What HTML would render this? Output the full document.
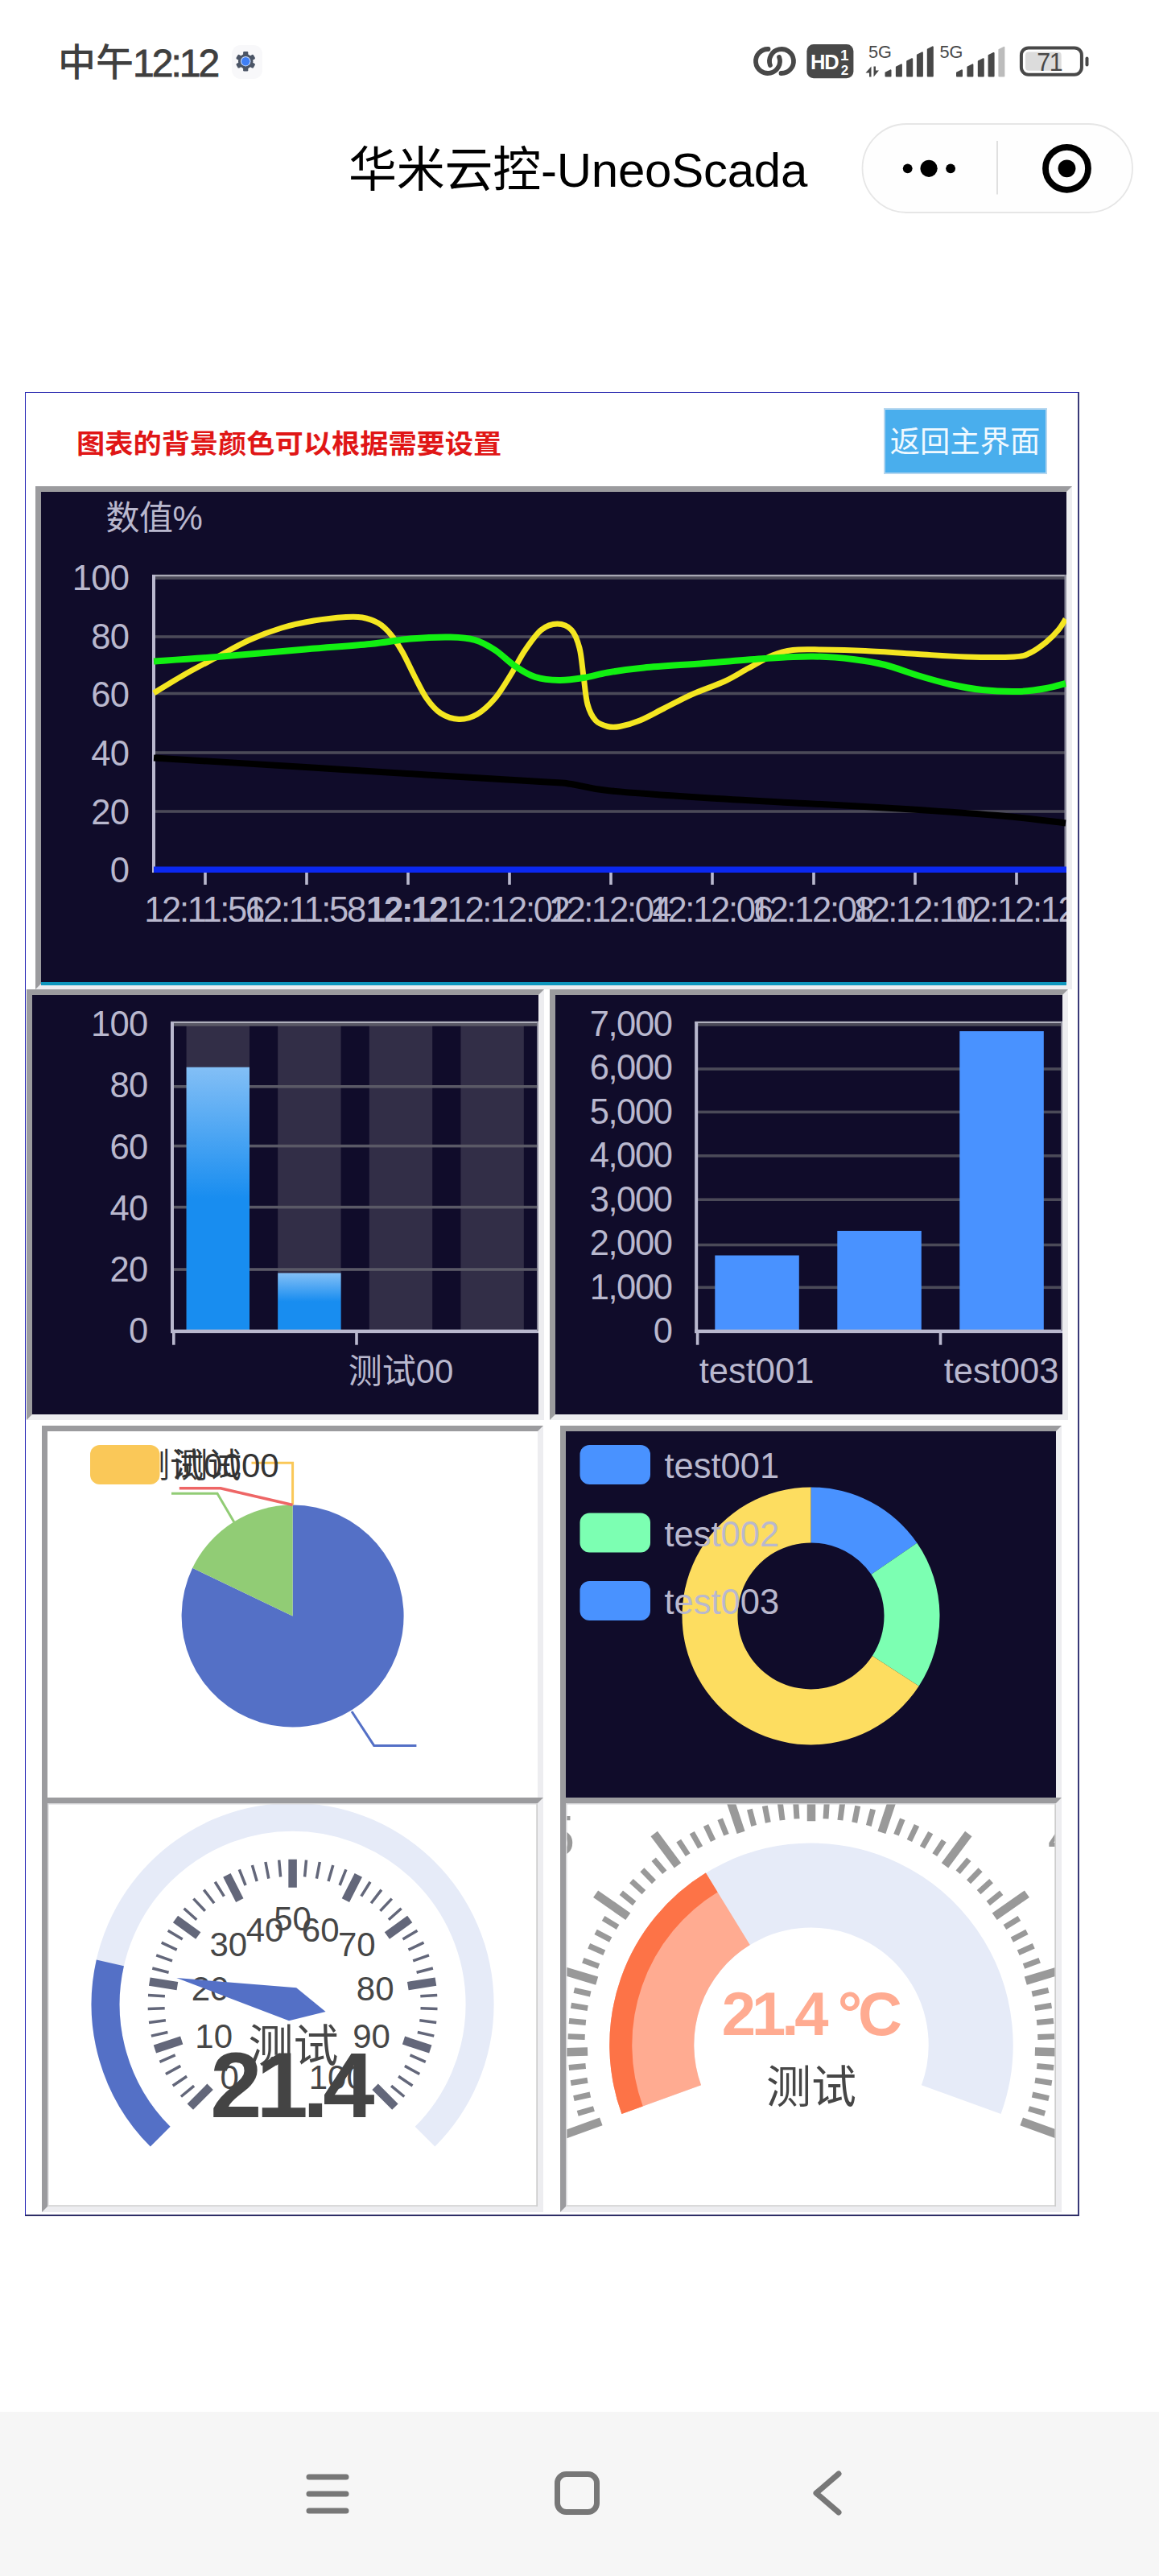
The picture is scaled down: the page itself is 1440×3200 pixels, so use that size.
<!DOCTYPE html>
<html lang="zh-CN"><head><meta charset="utf-8"><title>华米云控-UneoScada</title>
<style>
*{box-sizing:border-box;margin:0;padding:0}
html,body{width:1440px;height:3200px;background:#fff;overflow:hidden}
body{position:relative;font-family:"Liberation Sans","Noto Sans CJK SC",sans-serif;color:#000}
.abs{position:absolute}
.panel{position:absolute;border-style:solid;border-width:7px;border-color:#9b9b9e #ededf0 #ededf0 #9b9b9e;overflow:hidden}
.dark{background:#100c2a}
.panel svg{position:absolute;left:0;top:0;display:block}
svg text{font-family:"Liberation Sans","Noto Sans CJK SC",sans-serif}
.t{position:absolute;white-space:nowrap;line-height:1}
</style></head>
<body>
<div class="t" id="clock" style="left:72px;top:54px;font-size:47px;color:#3f3f3f;font-weight:500">中午</div>
<div class="t" id="clock2" style="left:165px;top:54.6px;font-size:48px;color:#3f3f3f;letter-spacing:-3.0px;-webkit-text-stroke:0.8px #3f3f3f">12:12</div>
<svg class="abs" style="left:286px;top:54px" width="42" height="46" viewBox="286 54 42 46">
<rect x="288" y="56" width="38" height="42" rx="11" fill="#f8f8fa"/>
<g transform="translate(305.2 76.2)">
<g fill="#4b5566">
<circle r="9.2"/>
<rect x="-3.1" y="-12.3" width="6.2" height="6" rx="1.3" transform="rotate(0)"/><rect x="-3.1" y="-12.3" width="6.2" height="6" rx="1.3" transform="rotate(60)"/><rect x="-3.1" y="-12.3" width="6.2" height="6" rx="1.3" transform="rotate(120)"/><rect x="-3.1" y="-12.3" width="6.2" height="6" rx="1.3" transform="rotate(180)"/><rect x="-3.1" y="-12.3" width="6.2" height="6" rx="1.3" transform="rotate(240)"/><rect x="-3.1" y="-12.3" width="6.2" height="6" rx="1.3" transform="rotate(300)"/>
</g>
<circle r="6.2" fill="#cfe0ff"/><circle r="5.2" fill="#3f7ff5"/>
</g></svg>
<svg class="abs" style="left:930px;top:50px" width="430" height="56" viewBox="930 50 430 56"><g fill="none" stroke="#484848" stroke-width="5.8" stroke-linecap="round"><path d="M954.5 61.0A15 15 0 1 0 968.1 70.9"/><path d="M970.5 91.0A15 15 0 1 0 956.9 81.1"/></g><rect x="1002.4" y="55.1" width="58" height="42.2" rx="8.5" fill="#484848"/><text x="1007" y="86" font-size="25.5" font-weight="700" fill="#fff" letter-spacing="-1.2">HD</text><text x="1049.3" y="75.4" font-size="19" font-weight="700" fill="#fff" text-anchor="middle">1</text><text x="1049.6" y="93" font-size="17" font-weight="700" fill="#fff" text-anchor="middle">2</text><text x="1079" y="72.2" font-size="21.7" fill="#484848">5G</text><path d="M1075.5 90.5L1082.5 82.5V95.5H1080V90.5Z M1092 87.5L1085.5 95.5V82.5H1088V87.5Z" fill="#484848"/><path d="M1100.5 94.5V90.4L1106.5 87.4V94.5Z" fill="#484848" stroke="#484848" stroke-width="2" stroke-linejoin="round"/><path d="M1113.9 94.5V83.4L1119.9 80.4V94.5Z" fill="#484848" stroke="#484848" stroke-width="2" stroke-linejoin="round"/><path d="M1127.2 94.5V76.2L1133.2 73.2V94.5Z" fill="#484848" stroke="#484848" stroke-width="2" stroke-linejoin="round"/><path d="M1139.9 94.5V68.4L1145.9 65.4V94.5Z" fill="#484848" stroke="#484848" stroke-width="2" stroke-linejoin="round"/><path d="M1152.8 94.5V61.4L1158.8 58.4V94.5Z" fill="#484848" stroke="#484848" stroke-width="2" stroke-linejoin="round"/><text x="1167.5" y="72.2" font-size="21.7" fill="#484848">5G</text><path d="M1189.0 94.5V90.4L1195.0 87.4V94.5Z" fill="#484848" stroke="#484848" stroke-width="2" stroke-linejoin="round"/><path d="M1202.4 94.5V83.4L1208.4 80.4V94.5Z" fill="#484848" stroke="#484848" stroke-width="2" stroke-linejoin="round"/><path d="M1215.8 94.5V76.2L1221.8 73.2V94.5Z" fill="#484848" stroke="#484848" stroke-width="2" stroke-linejoin="round"/><path d="M1228.6 94.5V69.0L1234.6 66.0V94.5Z" fill="#484848" stroke="#484848" stroke-width="2" stroke-linejoin="round"/><path d="M1241.4 94.5V61.8L1247.4 58.8V94.5Z" fill="#bcbcbc" stroke="#bcbcbc" stroke-width="2" stroke-linejoin="round"/><rect x="1268.9" y="59.4" width="75" height="33.3" rx="9" fill="#fff" stroke="#484848" stroke-width="4"/><rect x="1274" y="64.4" width="44.7" height="23.3" rx="4" fill="#dcdcdc"/><rect x="1348.5" y="70.4" width="4" height="12.2" rx="2" fill="#484848"/><text x="1303.7" y="87.7" font-size="30.5" fill="#484848" text-anchor="middle" letter-spacing="-1.5">71</text></svg>
<div class="t" id="title" style="left:433px;top:182px;font-size:60px;color:#000;letter-spacing:-0.25px">华米云控-UneoScada</div>
<svg class="abs" style="left:1066px;top:148px" width="348" height="122" viewBox="1066 148 348 122">
<rect x="1071.5" y="154" width="335.5" height="110" rx="55" fill="#fefefe" stroke="#e6e6e6" stroke-width="1.8"/>
<rect x="1238.2" y="175" width="1.6" height="66.5" fill="#d9d9d9"/>
<circle cx="1127.7" cy="209.3" r="5.9"/><circle cx="1154.1" cy="209.3" r="10.6"/><circle cx="1181.1" cy="209.3" r="5.9"/>
<circle cx="1325.5" cy="209.3" r="26.5" fill="none" stroke="#000" stroke-width="7.8"/><circle cx="1325.5" cy="209.3" r="10.9"/>
</svg>
<div class="abs" style="left:31px;top:487px;width:1310px;height:2266px;border-style:solid;border-width:1.4px 2px 2px 1.4px;border-color:#2a2ab0 #3a3a78 #2e2e66 #2222b4"></div>
<div class="t" id="redtitle" style="left:94.5px;top:535.6px;font-size:32.6px;transform:scaleX(1.081);transform-origin:0 0;font-weight:700;color:#e01616">图表的背景颜色可以根据需要设置</div>
<div class="abs" id="btn" style="left:1097.5px;top:507px;width:203px;height:82px;background:#49aeed;border:2px solid #b4d6ef;color:#f0f9ff;font-size:37.3px;line-height:81px;text-align:center;white-space:nowrap">返回主界面</div>
<div class="panel dark" style="left:44px;top:604px;width:1288px;height:625px">
<svg width="1274" height="611" viewBox="51 611 1274 611">
<text x="131.5" y="658.3" font-size="42" fill="#b9b8ce" letter-spacing="-0.5">数值%</text>
<rect x="191" y="716.2" width="1134" height="3.6" fill="#4b4a58"/>
<text x="160.3" y="732.9" font-size="43.5" fill="#b9b8ce" text-anchor="end" letter-spacing="-0.7">100</text>
<rect x="191" y="789.2" width="1134" height="3.6" fill="#4b4a58"/>
<text x="160.3" y="805.6" font-size="43.5" fill="#b9b8ce" text-anchor="end" letter-spacing="-0.7">80</text>
<rect x="191" y="859.7" width="1134" height="3.6" fill="#4b4a58"/>
<text x="160.3" y="878.3" font-size="43.5" fill="#b9b8ce" text-anchor="end" letter-spacing="-0.7">60</text>
<rect x="191" y="933.2" width="1134" height="3.6" fill="#4b4a58"/>
<text x="160.3" y="951.0" font-size="43.5" fill="#b9b8ce" text-anchor="end" letter-spacing="-0.7">40</text>
<rect x="191" y="1006.2" width="1134" height="3.6" fill="#4b4a58"/>
<text x="160.3" y="1023.7" font-size="43.5" fill="#b9b8ce" text-anchor="end" letter-spacing="-0.7">20</text>
<text x="160.3" y="1096.4" font-size="43.5" fill="#b9b8ce" text-anchor="end" letter-spacing="-0.7">0</text>
<rect x="189" y="713.8" width="1136" height="2.4" fill="#a9a9b4"/>
<rect x="1322.5" y="714" width="2.5" height="368" fill="#8d8c9c"/>
<rect x="189" y="714" width="4" height="370" fill="#b9b8ce"/>
<path d="M191.0 941.5C222.5 943.4 323.5 949.5 380.0 953.0C436.5 956.5 480.0 959.4 530.0 962.5C580.0 965.6 650.0 969.6 680.0 971.5C710.0 973.4 697.5 972.2 710.0 974.0C722.5 975.8 727.5 979.2 755.0 982.0C782.5 984.8 834.2 988.3 875.0 991.0C915.8 993.7 958.3 995.7 1000.0 998.0C1041.7 1000.3 1083.3 1002.3 1125.0 1005.0C1166.7 1007.7 1216.8 1011.1 1250.0 1014.0C1283.2 1016.9 1311.7 1021.1 1324.0 1022.5" fill="none" stroke="#000" stroke-width="8" stroke-linejoin="round"/>
<path d="M191.0 861.0C197.5 857.1 216.8 845.0 230.0 837.5C243.2 830.0 256.7 823.1 270.0 816.0C283.3 808.9 296.7 801.0 310.0 795.0C323.3 789.0 336.7 784.0 350.0 780.0C363.3 776.0 376.7 773.2 390.0 771.0C403.3 768.8 420.0 767.2 430.0 766.5C440.0 765.8 443.3 765.8 450.0 767.0C456.7 768.2 464.2 770.6 470.0 774.0C475.8 777.4 480.0 781.5 485.0 787.5C490.0 793.5 495.0 801.2 500.0 810.0C505.0 818.8 510.0 830.4 515.0 840.0C520.0 849.6 524.6 859.8 530.0 867.5C535.4 875.2 540.8 881.7 547.5 886.0C554.2 890.3 562.5 893.2 570.0 893.5C577.5 893.8 585.0 891.8 592.5 887.5C600.0 883.2 607.9 875.8 615.0 867.5C622.1 859.2 628.8 847.5 635.0 837.5C641.2 827.5 646.2 816.7 652.5 807.5C658.8 798.3 665.8 787.9 672.5 782.5C679.2 777.1 686.2 775.0 692.5 775.0C698.8 775.0 705.4 777.5 710.0 782.5C714.6 787.5 717.5 795.4 720.0 805.0C722.5 814.6 723.3 828.3 725.0 840.0C726.7 851.7 727.5 865.8 730.0 875.0C732.5 884.2 735.8 890.4 740.0 895.0C744.2 899.6 750.0 901.2 755.0 902.5C760.0 903.8 763.3 903.8 770.0 902.5C776.7 901.2 785.8 898.8 795.0 895.0C804.2 891.2 814.2 885.4 825.0 880.0C835.8 874.6 847.5 868.1 860.0 862.5C872.5 856.9 888.3 851.9 900.0 846.5C911.7 841.1 920.0 835.4 930.0 830.0C940.0 824.6 950.8 817.8 960.0 814.0C969.2 810.2 975.0 808.7 985.0 807.5C995.0 806.3 1005.0 806.8 1020.0 807.0C1035.0 807.2 1055.0 807.6 1075.0 808.5C1095.0 809.4 1119.2 811.2 1140.0 812.5C1160.8 813.8 1180.0 815.4 1200.0 816.0C1220.0 816.6 1246.7 816.8 1260.0 816.0C1273.3 815.2 1273.3 814.1 1280.0 811.0C1286.7 807.9 1294.2 802.2 1300.0 797.5C1305.8 792.8 1311.0 787.2 1315.0 782.5C1319.0 777.8 1322.5 771.2 1324.0 769.0" fill="none" stroke="#f4e621" stroke-width="7" stroke-linejoin="round"/>
<path d="M191.0 821.5C204.2 820.6 238.5 818.5 270.0 816.0C301.5 813.5 348.3 809.2 380.0 806.5C411.7 803.8 438.3 802.2 460.0 800.0C481.7 797.8 493.3 794.9 510.0 793.5C526.7 792.1 546.7 791.2 560.0 791.5C573.3 791.8 580.8 792.3 590.0 795.0C599.2 797.7 606.7 802.1 615.0 807.5C623.3 812.9 631.7 821.9 640.0 827.5C648.3 833.1 655.8 838.1 665.0 841.0C674.2 843.9 685.0 844.8 695.0 845.0C705.0 845.2 715.0 843.6 725.0 842.0C735.0 840.4 742.5 837.6 755.0 835.5C767.5 833.4 780.0 831.4 800.0 829.5C820.0 827.6 850.0 825.9 875.0 824.0C900.0 822.1 927.5 819.4 950.0 818.0C972.5 816.6 991.7 815.3 1010.0 815.5C1028.3 815.7 1045.0 817.2 1060.0 819.0C1075.0 820.8 1086.7 822.7 1100.0 826.0C1113.3 829.3 1126.7 835.0 1140.0 839.0C1153.3 843.0 1166.7 847.0 1180.0 850.0C1193.3 853.0 1205.8 855.5 1220.0 857.0C1234.2 858.5 1251.7 859.3 1265.0 859.0C1278.3 858.7 1290.2 856.7 1300.0 855.0C1309.8 853.3 1320.0 850.0 1324.0 849.0" fill="none" stroke="#12f012" stroke-width="8" stroke-linejoin="round"/>
<rect x="191" y="1076.5" width="1134" height="7.5" fill="#0b28f0"/>
<rect x="253.2" y="1084" width="3.6" height="15" fill="#b9b8ce"/>
<text x="253.0" y="1145.4" font-size="43.5" fill="#b9b8ce" text-anchor="middle" letter-spacing="-2.3">12:11:56</text>
<rect x="379.2" y="1084" width="3.6" height="15" fill="#b9b8ce"/>
<text x="379.0" y="1145.4" font-size="43.5" fill="#b9b8ce" text-anchor="middle" letter-spacing="-2.3">12:11:58</text>
<rect x="505.2" y="1084" width="3.6" height="15" fill="#b9b8ce"/>
<text x="505.0" y="1145.4" font-size="43.5" fill="#b9b8ce" text-anchor="middle" letter-spacing="-2.3" font-weight="700">12:12</text>
<rect x="631.2" y="1084" width="3.6" height="15" fill="#b9b8ce"/>
<text x="631.0" y="1145.4" font-size="43.5" fill="#b9b8ce" text-anchor="middle" letter-spacing="-2.3">12:12:02</text>
<rect x="757.2" y="1084" width="3.6" height="15" fill="#b9b8ce"/>
<text x="757.0" y="1145.4" font-size="43.5" fill="#b9b8ce" text-anchor="middle" letter-spacing="-2.3">12:12:04</text>
<rect x="883.2" y="1084" width="3.6" height="15" fill="#b9b8ce"/>
<text x="883.0" y="1145.4" font-size="43.5" fill="#b9b8ce" text-anchor="middle" letter-spacing="-2.3">12:12:06</text>
<rect x="1009.2" y="1084" width="3.6" height="15" fill="#b9b8ce"/>
<text x="1009.0" y="1145.4" font-size="43.5" fill="#b9b8ce" text-anchor="middle" letter-spacing="-2.3">12:12:08</text>
<rect x="1135.2" y="1084" width="3.6" height="15" fill="#b9b8ce"/>
<text x="1135.0" y="1145.4" font-size="43.5" fill="#b9b8ce" text-anchor="middle" letter-spacing="-2.3">12:12:10</text>
<rect x="1261.2" y="1084" width="3.6" height="15" fill="#b9b8ce"/>
<text x="1261.0" y="1145.4" font-size="43.5" fill="#b9b8ce" text-anchor="middle" letter-spacing="-2.3">12:12:12</text>
</svg></div>
<div class="abs" style="left:51px;top:1220px;width:1274px;height:4px;background:#0e96bd"></div>
<div class="panel dark" style="left:33px;top:1229px;width:643px;height:535px">
<svg width="629" height="521" viewBox="40 1236 629 521">
<defs><linearGradient id="bg1" x1="0" y1="0" x2="0" y2="1"><stop offset="0" stop-color="#83bff6"/><stop offset="0.5" stop-color="#188df0"/><stop offset="1" stop-color="#188df0"/></linearGradient></defs>
<rect x="231.6" y="1272.9" width="78.4" height="379.1" fill="#322e47"/>
<rect x="345.2" y="1272.9" width="78.4" height="379.1" fill="#322e47"/>
<rect x="458.8" y="1272.9" width="78.4" height="379.1" fill="#322e47"/>
<rect x="572.4" y="1272.9" width="78.4" height="379.1" fill="#322e47"/>
<rect x="212" y="1268.8" width="457" height="2.5" fill="#b0b0bc"/>
<rect x="214" y="1271.1" width="455" height="3.6" fill="#5a5966"/>
<rect x="214" y="1348.0" width="455" height="3.6" fill="#5a5966"/>
<rect x="214" y="1421.8" width="455" height="3.6" fill="#5a5966"/>
<rect x="214" y="1497.8" width="455" height="3.6" fill="#5a5966"/>
<rect x="214" y="1575.2" width="455" height="3.6" fill="#5a5966"/>
<text x="183.5" y="1286.9" font-size="43.5" fill="#b9b8ce" text-anchor="end" letter-spacing="-0.7">100</text>
<text x="183.5" y="1363.2" font-size="43.5" fill="#b9b8ce" text-anchor="end" letter-spacing="-0.7">80</text>
<text x="183.5" y="1439.5" font-size="43.5" fill="#b9b8ce" text-anchor="end" letter-spacing="-0.7">60</text>
<text x="183.5" y="1515.8" font-size="43.5" fill="#b9b8ce" text-anchor="end" letter-spacing="-0.7">40</text>
<text x="183.5" y="1592.1" font-size="43.5" fill="#b9b8ce" text-anchor="end" letter-spacing="-0.7">20</text>
<text x="183.5" y="1668.4" font-size="43.5" fill="#b9b8ce" text-anchor="end" letter-spacing="-0.7">0</text>
<rect x="231.6" y="1325.7" width="78.4" height="326.3" fill="url(#bg1)"/>
<rect x="345.2" y="1581.4" width="78.4" height="70.6" fill="url(#bg1)"/>
<rect x="212" y="1269.6" width="4" height="386.5" fill="#b9b8ce"/>
<rect x="212" y="1651.6" width="457" height="4.5" fill="#b9b8ce"/>
<rect x="667" y="1270" width="2" height="383" fill="#8d8c9c"/>
<rect x="214.0" y="1655" width="3.6" height="15.7" fill="#b9b8ce"/>
<rect x="441.2" y="1655" width="3.6" height="15.7" fill="#b9b8ce"/>
<text x="498" y="1717.5" font-size="42" fill="#b9b8ce" text-anchor="middle">测试00</text>
</svg></div>
<div class="panel dark" style="left:683px;top:1229px;width:644px;height:535px">
<svg width="630" height="521" viewBox="690 1236 630 521">
<rect x="863.2" y="1268.8" width="457" height="2.5" fill="#b0b0bc"/>
<rect x="865" y="1271.1" width="455" height="3.6" fill="#4b4a58"/>
<rect x="865" y="1326.1" width="455" height="3.6" fill="#4b4a58"/>
<rect x="865" y="1379.6" width="455" height="3.6" fill="#4b4a58"/>
<rect x="865" y="1434.0" width="455" height="3.6" fill="#4b4a58"/>
<rect x="865" y="1488.4" width="455" height="3.6" fill="#4b4a58"/>
<rect x="865" y="1544.7" width="455" height="3.6" fill="#4b4a58"/>
<rect x="865" y="1597.5" width="455" height="3.6" fill="#4b4a58"/>
<text x="834.5" y="1286.6" font-size="43.5" fill="#b9b8ce" text-anchor="end" letter-spacing="-1.4">7,000</text>
<text x="834.5" y="1341.1" font-size="43.5" fill="#b9b8ce" text-anchor="end" letter-spacing="-1.4">6,000</text>
<text x="834.5" y="1395.7" font-size="43.5" fill="#b9b8ce" text-anchor="end" letter-spacing="-1.4">5,000</text>
<text x="834.5" y="1450.2" font-size="43.5" fill="#b9b8ce" text-anchor="end" letter-spacing="-1.4">4,000</text>
<text x="834.5" y="1504.8" font-size="43.5" fill="#b9b8ce" text-anchor="end" letter-spacing="-1.4">3,000</text>
<text x="834.5" y="1559.3" font-size="43.5" fill="#b9b8ce" text-anchor="end" letter-spacing="-1.4">2,000</text>
<text x="834.5" y="1613.9" font-size="43.5" fill="#b9b8ce" text-anchor="end" letter-spacing="-1.4">1,000</text>
<text x="834.5" y="1668.4" font-size="43.5" fill="#b9b8ce" text-anchor="end" letter-spacing="-1.4">0</text>
<rect x="888.3" y="1559.5" width="104.5" height="92.5" fill="#4992ff"/>
<rect x="1040.3" y="1529.0" width="104.5" height="123.0" fill="#4992ff"/>
<rect x="1192.3" y="1281.0" width="104.5" height="371.0" fill="#4992ff"/>
<rect x="863.2" y="1269.6" width="4" height="386.5" fill="#b9b8ce"/>
<rect x="863.2" y="1651.6" width="457" height="4.5" fill="#b9b8ce"/>
<rect x="1318" y="1270" width="2" height="383" fill="#8d8c9c"/>
<rect x="864.8" y="1655" width="3.6" height="15.7" fill="#b9b8ce"/>
<rect x="1166.7" y="1655" width="3.6" height="15.7" fill="#b9b8ce"/>
<text x="940" y="1718" font-size="43.5" fill="#b9b8ce" text-anchor="middle">test001</text>
<text x="1244" y="1718" font-size="43.5" fill="#b9b8ce" text-anchor="middle">test003</text>
</svg></div>
<div class="panel" style="left:52px;top:1771px;width:623px;height:469px;background:#fff">
<svg width="609" height="455" viewBox="59 1778 609 455">
<path d="M363.60 2007.50L363.60 1869.50A138.00 138.00 0 1 1 239.15 1947.87Z" fill="#5470c6"/>
<path d="M363.60 2007.50L239.15 1947.87A138.00 138.00 0 0 1 363.60 1869.50Z" fill="#91cc75"/>
<path d="M363.6 1869.5V1817.3H312.5" fill="none" stroke="#fac858" stroke-width="3"/>
<path d="M363.6 1869.5L274 1848.8H222.8" fill="none" stroke="#ee6666" stroke-width="3.5"/>
<path d="M290.8 1890.7L270 1855.3H213" fill="none" stroke="#91cc75" stroke-width="3"/>
<path d="M437 2126L464.7 2168.4H517.4" fill="none" stroke="#5470c6" stroke-width="3"/>
<text x="169" y="1834.5" font-size="42" fill="#333">测试00</text>
<rect x="112" y="1795" width="86.5" height="49" rx="12" fill="#fac858"/>
<text x="216" y="1834.5" font-size="42" fill="#333">测试00</text>
</svg></div>
<div class="panel dark" style="left:696px;top:1771px;width:623px;height:469px">
<svg width="609" height="455" viewBox="703 1778 609 455">
<path d="M1007.50 1847.40A160.00 160.00 0 0 1 1139.36 1916.78L1082.50 1955.86A91.00 91.00 0 0 0 1007.50 1916.40Z" fill="#4992ff"/>
<path d="M1139.36 1916.78A160.00 160.00 0 0 1 1141.69 2094.54L1083.82 2056.96A91.00 91.00 0 0 0 1082.50 1955.86Z" fill="#7cffb2"/>
<path d="M1141.69 2094.54A160.00 160.00 0 1 1 1007.50 1847.40L1007.50 1916.40A91.00 91.00 0 1 0 1083.82 2056.96Z" fill="#fddd60"/>
<rect x="720.5" y="1795.0" width="87.5" height="49" rx="12" fill="#4992ff"/>
<text x="825.5" y="1836.2" font-size="43.5" fill="#b9b8ce">test001</text>
<rect x="720.5" y="1879.5" width="87.5" height="49" rx="12" fill="#7cffb2"/>
<text x="825.5" y="1920.7" font-size="43.5" fill="#b9b8ce">test002</text>
<rect x="720.5" y="1964.0" width="87.5" height="49" rx="12" fill="#4992ff"/>
<text x="825.5" y="2005.2" font-size="43.5" fill="#b9b8ce">test003</text>
</svg></div>
<div class="panel" style="left:52px;top:2233px;width:623px;height:514.5px;background:#fff">
<svg width="609" height="500.5" viewBox="59 2240 609 500.5">
<path d="M199.20 2654.20A232.50 232.50 0 1 1 528.00 2654.20" fill="none" stroke="#e6ebf8" stroke-width="35.0"/>
<path d="M199.20 2654.20A232.50 232.50 0 0 1 136.86 2438.37" fill="none" stroke="#5470c6" stroke-width="35.0"/>
<path d="M224.9 2604.5L241.1 2591.2M214.7 2591.0L232.1 2579.2M205.9 2576.5L224.3 2566.4M198.4 2561.3L217.7 2552.9M187.9 2529.1L208.4 2524.5M185.0 2512.4L205.9 2509.7M183.7 2495.5L204.7 2494.8M184.0 2478.5L204.9 2479.8M189.3 2445.0L209.6 2450.3M194.2 2428.8L214.0 2435.9M200.7 2413.2L219.7 2422.1M208.7 2398.2L226.7 2408.9M228.6 2370.8L244.3 2384.7M240.4 2358.6L254.8 2373.9M253.3 2347.6L266.1 2364.2M267.2 2337.8L278.4 2355.6M297.3 2322.4L305.1 2342.0M313.4 2316.9L319.2 2337.1M329.9 2313.0L333.8 2333.6M346.7 2310.6L348.6 2331.5M380.5 2310.6L378.6 2331.5M397.3 2313.0L393.4 2333.6M413.8 2316.9L408.0 2337.1M429.9 2322.4L422.1 2342.0M460.0 2337.8L448.8 2355.6M473.9 2347.6L461.1 2364.2M486.8 2358.6L472.4 2373.9M498.6 2370.8L482.9 2384.7M518.5 2398.2L500.5 2408.9M526.5 2413.2L507.5 2422.1M533.0 2428.8L513.2 2435.9M537.9 2445.0L517.6 2450.3M543.2 2478.5L522.3 2479.8M543.5 2495.5L522.5 2494.8M542.2 2512.4L521.3 2509.7M539.3 2529.1L518.8 2524.5M528.8 2561.3L509.5 2552.9M521.3 2576.5L502.9 2566.4M512.5 2591.0L495.1 2579.2M502.3 2604.5L486.1 2591.2" fill="none" stroke="#63677a" stroke-width="3.5"/>
<path d="M236.3 2617.1L261.1 2592.3M192.4 2545.4L225.7 2534.6M185.8 2461.6L220.4 2467.1M218.0 2384.0L246.3 2404.6M281.9 2329.4L297.8 2360.6M363.6 2309.8L363.6 2344.8M445.3 2329.4L429.4 2360.6M509.2 2384.0L480.9 2404.6M541.4 2461.6L506.8 2467.1M534.8 2545.4L501.5 2534.6M490.9 2617.1L466.1 2592.3" fill="none" stroke="#63677a" stroke-width="10.5"/>
<text x="273.4" y="2595.0" font-size="42" fill="#464646" text-anchor="start">0</text>
<text x="242.3" y="2544.2" font-size="42" fill="#464646" text-anchor="start">10</text>
<text x="237.7" y="2484.9" font-size="42" fill="#464646" text-anchor="start">20</text>
<text x="260.5" y="2429.9" font-size="42" fill="#464646" text-anchor="start">30</text>
<text x="305.7" y="2411.8" font-size="42" fill="#464646" text-anchor="start">40</text>
<text x="363.6" y="2397.9" font-size="42" fill="#464646" text-anchor="middle">50</text>
<text x="421.5" y="2411.8" font-size="42" fill="#464646" text-anchor="end">60</text>
<text x="466.7" y="2429.9" font-size="42" fill="#464646" text-anchor="end">70</text>
<text x="489.5" y="2484.9" font-size="42" fill="#464646" text-anchor="end">80</text>
<text x="484.9" y="2544.2" font-size="42" fill="#464646" text-anchor="end">90</text>
<text x="453.8" y="2595.0" font-size="42" fill="#464646" text-anchor="end">100</text>
<path d="M404.6 2499.1L359.0 2510.3L219.3 2457.1L368.2 2469.3Z" fill="#5470c6"/>
<text x="364.6" y="2561" font-size="56" fill="#464646" text-anchor="middle">测试</text>
<text id="g1val" x="360.0" y="2630" font-size="115.5" font-weight="700" fill="#444" text-anchor="middle" letter-spacing="-6.8">21.4</text>
<rect x="666.3" y="2240" width="1.7" height="501" fill="#cdcdcd"/><rect x="59" y="2739.3" width="609" height="1.5" fill="#cdcdcd"/><rect x="59" y="2240" width="1.5" height="501" fill="#d6d6d8"/><rect x="59" y="2240" width="609" height="1.5" fill="#d6d6d8"/>
</svg></div>
<div class="panel" style="left:696px;top:2233px;width:623px;height:514.5px;background:#fff">
<svg width="609" height="500.5" viewBox="703 2240 609 500.5">
<path d="M821.75 2608.09A198.20 198.20 0 1 1 1194.25 2608.09" fill="none" stroke="#e6ebf8" stroke-width="105.0"/>
<path d="M821.75 2608.09A198.20 198.20 0 0 1 904.34 2371.37" fill="none" stroke="#ffab91" stroke-width="105.0"/>
<path d="M785.57 2621.26A236.70 236.70 0 0 1 884.21 2338.55" fill="none" stroke="#fd7347" stroke-width="28"/>
<path d="M737.9 2619.5L717.7 2625.4M733.4 2602.0L712.9 2606.6M730.0 2584.3L709.2 2587.6M727.7 2566.5L706.8 2568.4M726.7 2530.5L705.7 2529.7M727.9 2512.5L707.0 2510.4M730.2 2494.6L709.5 2491.2M733.7 2477.0L713.3 2472.3M744.0 2442.5L724.3 2435.2M750.8 2425.8L731.7 2417.3M758.7 2409.6L740.1 2399.8M767.6 2393.9L749.6 2383.0M788.2 2364.4L771.8 2351.3M799.9 2350.7L784.4 2336.6M812.5 2337.8L797.9 2322.7M825.8 2325.7L812.2 2309.7M854.7 2304.2L843.2 2286.6M870.1 2294.9L859.8 2276.6M886.1 2286.6L877.0 2267.6M902.5 2279.3L894.7 2259.8M936.7 2268.0L931.4 2247.7M954.3 2264.0L950.3 2243.4M972.1 2261.1L969.4 2240.3M990.0 2259.4L988.7 2238.4M1026.0 2259.4L1027.3 2238.4M1043.9 2261.1L1046.6 2240.3M1061.7 2264.0L1065.7 2243.4M1079.3 2268.0L1084.6 2247.7M1113.5 2279.3L1121.3 2259.8M1129.9 2286.6L1139.0 2267.6M1145.9 2294.9L1156.2 2276.6M1161.3 2304.2L1172.8 2286.6M1190.2 2325.7L1203.8 2309.7M1203.5 2337.8L1218.1 2322.7M1216.1 2350.7L1231.6 2336.6M1227.8 2364.4L1244.2 2351.3M1248.4 2393.9L1266.4 2383.0M1257.3 2409.6L1275.9 2399.8M1265.2 2425.8L1284.3 2417.3M1272.0 2442.5L1291.7 2435.2M1282.3 2477.0L1302.7 2472.3M1285.8 2494.6L1306.5 2491.2M1288.1 2512.5L1309.0 2510.4M1289.3 2530.5L1310.3 2529.7M1288.3 2566.5L1309.2 2568.4M1286.0 2584.3L1306.8 2587.6M1282.6 2602.0L1303.1 2606.6M1278.1 2619.5L1298.3 2625.4" fill="none" stroke="#999" stroke-width="7"/>
<path d="M746.8 2635.4L700.7 2652.1M730.1 2548.4L681.1 2549.8M741.7 2460.6L694.7 2446.5M780.3 2380.8L740.1 2352.7M842.0 2317.3L812.7 2278.0M920.6 2276.4L905.1 2229.9M1008.0 2262.3L1008.0 2213.3M1095.4 2276.4L1110.9 2229.9M1174.0 2317.3L1203.3 2278.0M1235.7 2380.8L1275.9 2352.7M1274.3 2460.6L1321.3 2446.5M1285.9 2548.4L1334.9 2549.8M1269.2 2635.4L1315.3 2652.1" fill="none" stroke="#999" stroke-width="10.5"/>
<text x="581.7" y="2720.5" font-size="70" fill="#999" text-anchor="start">0</text>
<text x="554.5" y="2578.5" font-size="70" fill="#999" text-anchor="start">5</text>
<text x="573.4" y="2435.2" font-size="70" fill="#999" text-anchor="start">10</text>
<text x="636.4" y="2305.1" font-size="70" fill="#999" text-anchor="start">15</text>
<text x="737.1" y="2235.7" font-size="70" fill="#999" text-anchor="start">20</text>
<text x="865.3" y="2168.9" font-size="70" fill="#999" text-anchor="middle">25</text>
<text x="1008.0" y="2145.9" font-size="70" fill="#999" text-anchor="middle">30</text>
<text x="1150.7" y="2168.9" font-size="70" fill="#999" text-anchor="middle">35</text>
<text x="1278.9" y="2235.7" font-size="70" fill="#999" text-anchor="end">40</text>
<text x="1379.6" y="2305.1" font-size="70" fill="#999" text-anchor="end">45</text>
<text x="1442.6" y="2435.2" font-size="70" fill="#999" text-anchor="end">50</text>
<text x="1461.5" y="2578.5" font-size="70" fill="#999" text-anchor="end">55</text>
<text x="1434.3" y="2720.5" font-size="70" fill="#999" text-anchor="end">60</text>
<text id="g2val" x="1006.3" y="2528.3" font-size="76" font-weight="700" fill="#ffab91" text-anchor="middle" letter-spacing="-5">21.4 °C</text>
<text x="1008" y="2611.5" font-size="56" fill="#464646" text-anchor="middle">测试</text>
<rect x="1310.3" y="2240" width="1.7" height="501" fill="#cdcdcd"/><rect x="703" y="2739.3" width="609" height="1.5" fill="#cdcdcd"/><rect x="703" y="2240" width="1.5" height="501" fill="#d6d6d8"/><rect x="703" y="2240" width="609" height="1.5" fill="#d6d6d8"/>
</svg></div>
<div class="abs" style="left:0;top:2996px;width:1440px;height:204px;background:#f6f6f6"></div>
<svg class="abs" style="left:360px;top:3050px" width="720" height="100" viewBox="360 3050 720 100">
<g fill="none" stroke="#777" stroke-width="7" stroke-linecap="round" stroke-linejoin="round">
<path d="M384 3077H430M384 3098H430M384 3119H430"/>
<rect x="692.5" y="3073.5" width="49" height="47" rx="11"/>
<path d="M1042 3073 L1014 3097 L1042 3121"/>
</g></svg>
</body></html>
